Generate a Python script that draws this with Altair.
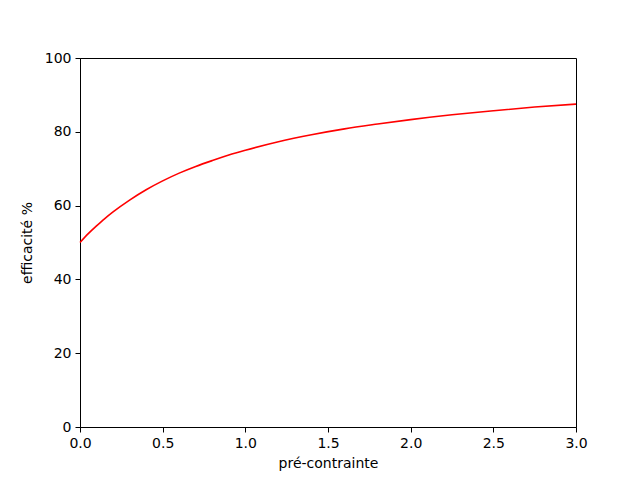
import altair as alt
import pandas as pd

x_vals = [0.0, 0.05, 0.1, 0.15, 0.2, 0.3, 0.4, 0.5, 0.6, 0.7, 0.8, 0.9, 1.0,
          1.2, 1.4, 1.6, 1.8, 2.0, 2.25, 2.5, 2.75, 3.0]
eff_vals = [50.0, 52.4, 54.5, 56.5, 58.3, 61.5, 64.3, 66.7, 68.8, 70.6, 72.2, 73.7, 75.0,
            77.3, 79.2, 80.8, 82.1, 83.3, 84.6, 85.7, 86.7, 87.5]

df = pd.DataFrame({"x": x_vals, "y": eff_vals})

axis_common = dict(
    labelFont="DejaVu Sans", titleFont="DejaVu Sans",
    labelFontSize=14, titleFontSize=14, titleFontWeight="normal",
    labelColor="black", titleColor="black",
    domainColor="black", tickColor="black", tickSize=5,
    grid=False, labelFlush=False,
)

chart = alt.Chart(df).mark_line(color="red", strokeWidth=1.6, interpolate="monotone").encode(
    x=alt.X("x:Q", scale=alt.Scale(domain=[0, 3], nice=False),
            axis=alt.Axis(title="pré-contrainte", values=[0, 0.5, 1.0, 1.5, 2.0, 2.5, 3.0],
                          format=".1f", labelPadding=4, titlePadding=6, **axis_common)),
    y=alt.Y("y:Q", scale=alt.Scale(domain=[0, 100], nice=False),
            axis=alt.Axis(title="efficacité %", values=[0, 20, 40, 60, 80, 100],
                          labelPadding=4, titlePadding=10, **axis_common)),
).properties(
    width=496, height=369,
    autosize=alt.AutoSizeParams(type="none"),
    padding={"left": 72, "top": 50, "right": 56, "bottom": 45},
).configure_view(stroke="black", strokeWidth=1)

chart.save("out.html", embed_options={"renderer": "svg", "actions": False})
